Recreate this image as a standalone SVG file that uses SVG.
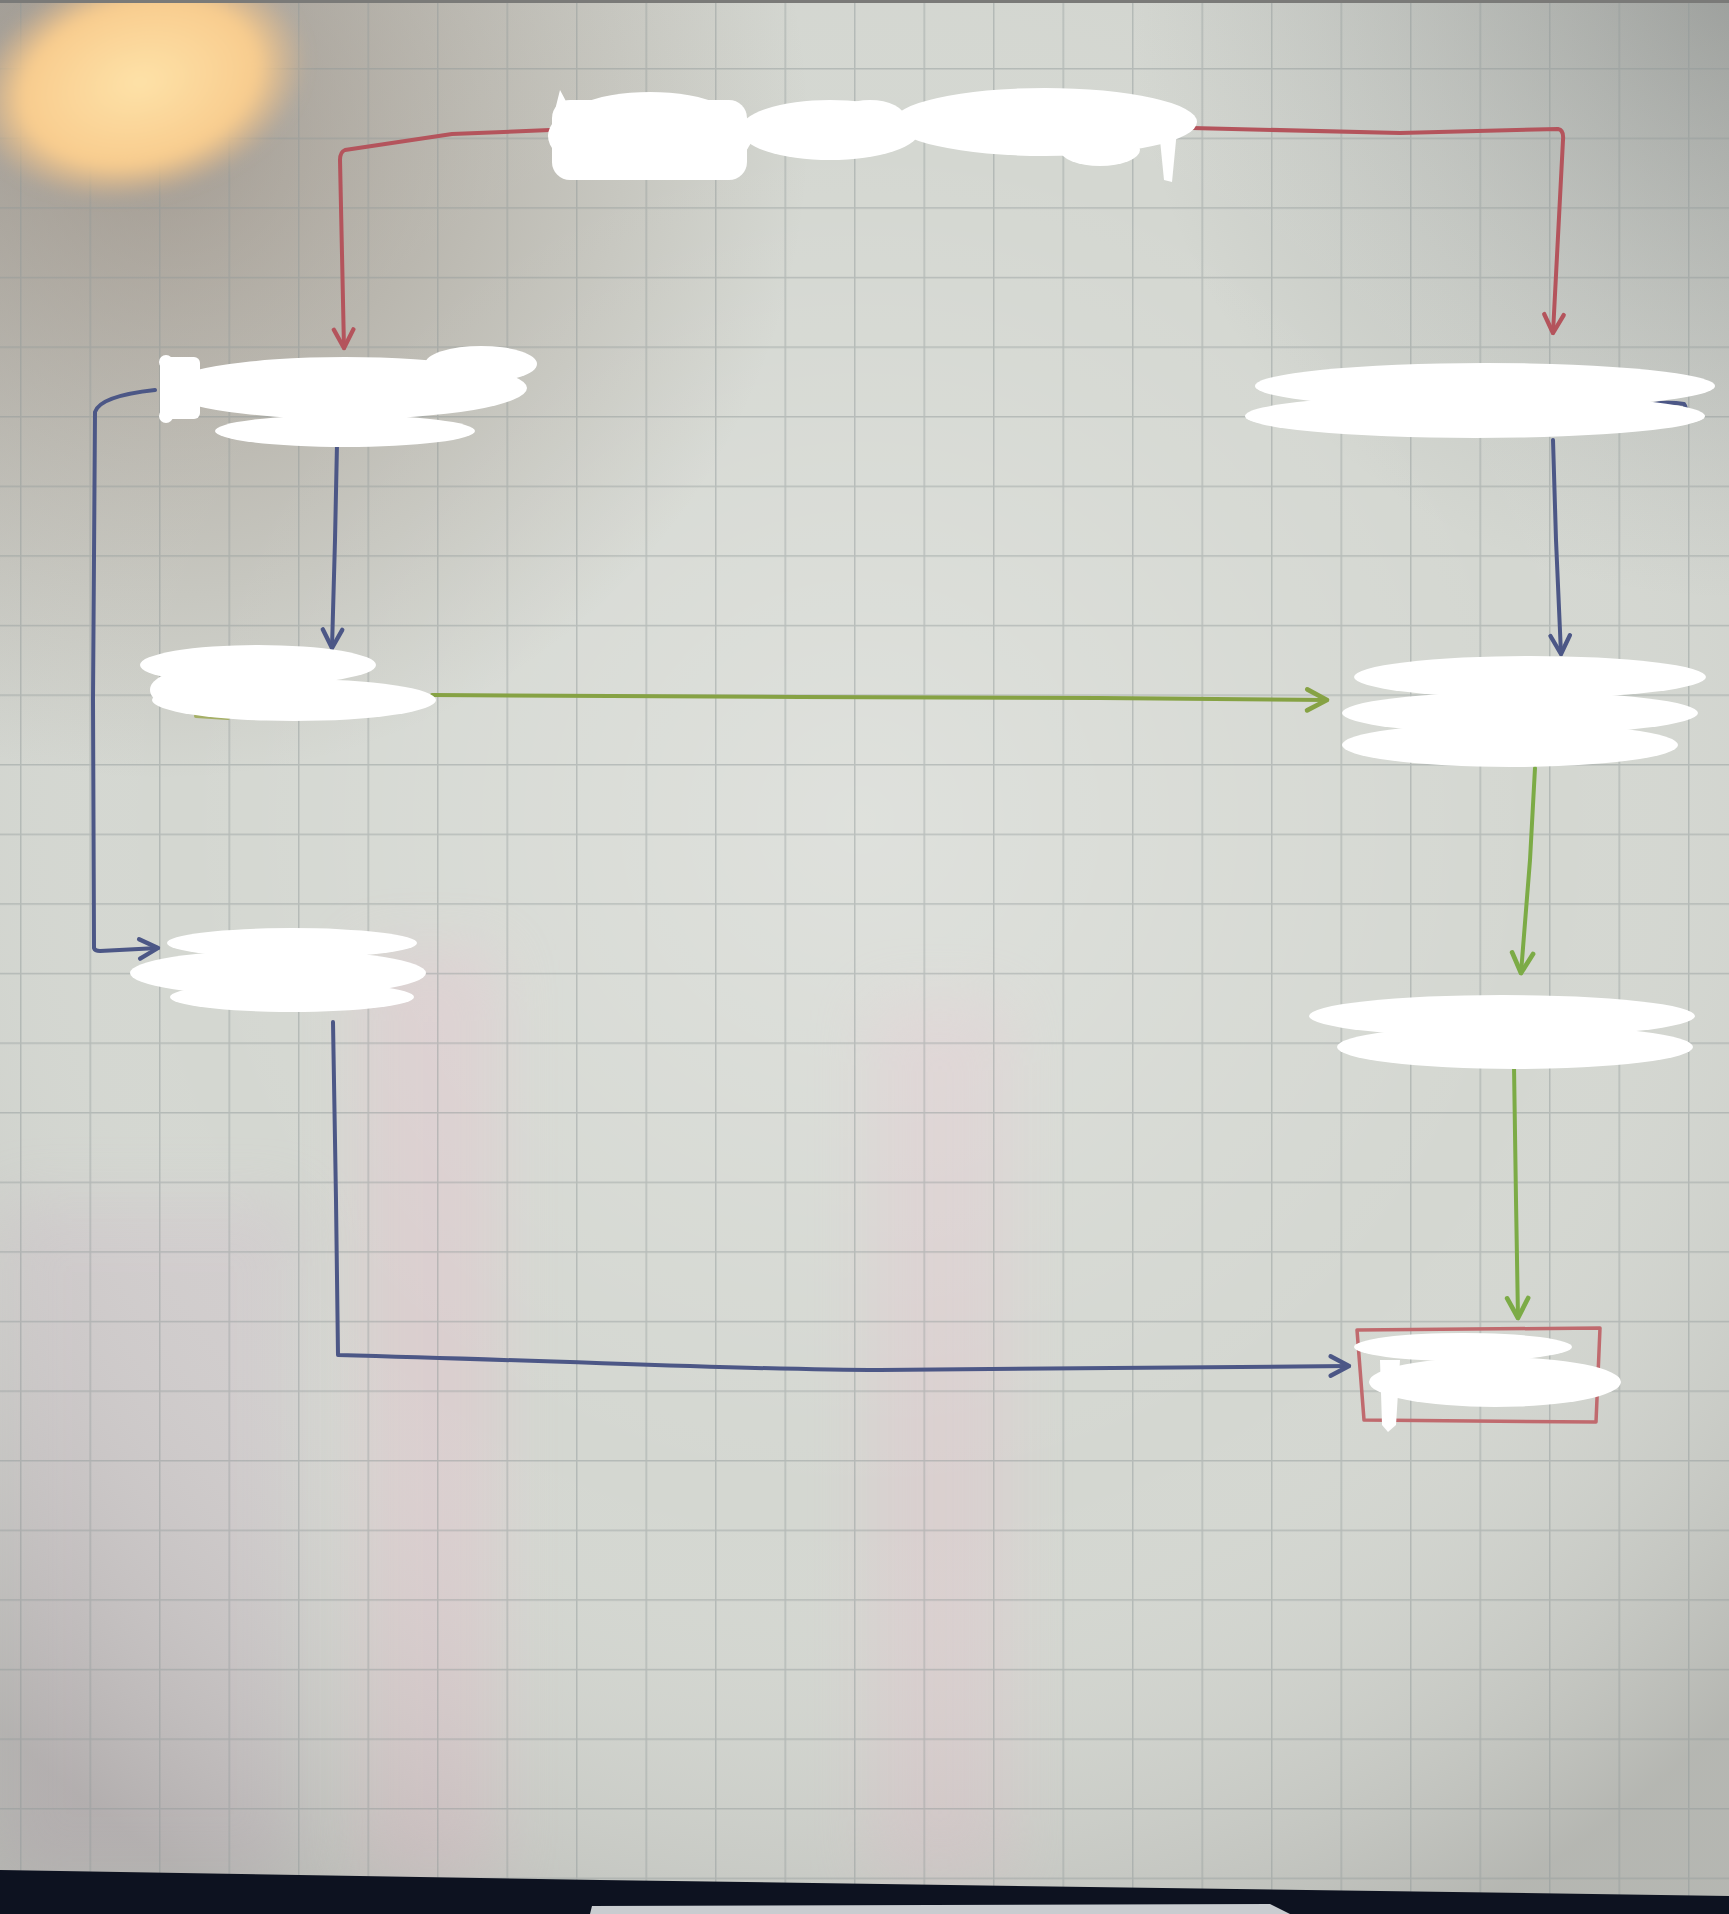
<svg xmlns="http://www.w3.org/2000/svg" width="1729" height="1914" viewBox="0 0 1729 1914">
<defs>
<style>
.blob{fill:#ffffff}
.con{fill:none;stroke-width:4;stroke-linecap:round;stroke-linejoin:round}
.red{stroke:#b4545c}
.blue{stroke:#4c5786}
.green{stroke:#86a244}
.green2{stroke:#7cab46}
.box{fill:none;stroke:#c06a6e;stroke-width:3.5;stroke-linejoin:round}
</style>
<pattern id="grid" x="20" y="68" width="69.5" height="69.6" patternUnits="userSpaceOnUse">
<path d="M0,0 V69.6 M0,0 H69.5" fill="none" stroke="#8f9696" stroke-opacity="0.45" stroke-width="3"/>
</pattern>
<radialGradient id="light" cx="860" cy="820" r="1250" gradientUnits="userSpaceOnUse">
<stop offset="0" stop-color="#ffffff" stop-opacity="0.25"/>
<stop offset="0.55" stop-color="#ffffff" stop-opacity="0"/>
<stop offset="1" stop-color="#3a3535" stop-opacity="0.2"/>
</radialGradient>
<radialGradient id="tl" cx="160" cy="130" r="650" gradientUnits="userSpaceOnUse">
<stop offset="0" stop-color="#6e5a4c" stop-opacity="0.45"/>
<stop offset="1" stop-color="#6e5a4c" stop-opacity="0"/>
</radialGradient>
<radialGradient id="tr" cx="1729" cy="0" r="600" gradientUnits="userSpaceOnUse">
<stop offset="0" stop-color="#5a5f60" stop-opacity="0.3"/>
<stop offset="1" stop-color="#5a5f60" stop-opacity="0"/>
</radialGradient>
<radialGradient id="lamp" cx="0.5" cy="0.5" r="0.5">
<stop offset="0" stop-color="#fee2a8"/>
<stop offset="0.7" stop-color="#f8cc8e"/>
<stop offset="1" stop-color="#ecbd88" stop-opacity="0"/>
</radialGradient>
<filter id="blur" x="-20%" y="-20%" width="140%" height="140%"><feGaussianBlur stdDeviation="7"/></filter>
<filter id="blur2" x="-50%" y="-10%" width="200%" height="120%"><feGaussianBlur stdDeviation="30"/></filter>
<marker id="ar-red" viewBox="0 0 24 24" refX="21" refY="12" markerWidth="26" markerHeight="26" markerUnits="userSpaceOnUse" orient="auto"><path d="M4,3 L21,12 L4,21" fill="none" stroke="#b4545c" stroke-width="4" stroke-linecap="round" stroke-linejoin="round"/></marker>
<marker id="ar-blue" viewBox="0 0 24 24" refX="21" refY="12" markerWidth="26" markerHeight="26" markerUnits="userSpaceOnUse" orient="auto"><path d="M4,3 L21,12 L4,21" fill="none" stroke="#4c5786" stroke-width="4" stroke-linecap="round" stroke-linejoin="round"/></marker>
<marker id="ar-green" viewBox="0 0 24 24" refX="21" refY="12" markerWidth="28" markerHeight="28" markerUnits="userSpaceOnUse" orient="auto"><path d="M4,3 L21,12 L4,21" fill="none" stroke="#86a244" stroke-width="4" stroke-linecap="round" stroke-linejoin="round"/></marker>
<marker id="ar-green2" viewBox="0 0 24 24" refX="21" refY="12" markerWidth="28" markerHeight="28" markerUnits="userSpaceOnUse" orient="auto"><path d="M4,3 L21,12 L4,21" fill="none" stroke="#7cab46" stroke-width="4" stroke-linecap="round" stroke-linejoin="round"/></marker>
</defs>

<g id="paper">
<rect x="0" y="0" width="1729" height="1914" fill="#d4d7d1"/>
<rect x="360" y="950" width="140" height="930" fill="#e4c2cc" opacity="0.4" filter="url(#blur2)"/>
<rect x="870" y="1000" width="140" height="880" fill="#e4c2cc" opacity="0.35" filter="url(#blur2)"/>
<rect x="0" y="1200" width="300" height="680" fill="#cdbcc8" opacity="0.35" filter="url(#blur2)"/>
<rect x="0" y="0" width="1729" height="1914" fill="url(#light)"/>
<rect x="0" y="0" width="1729" height="1914" fill="url(#tl)"/>
<rect x="0" y="0" width="1729" height="1914" fill="url(#tr)"/>
<rect x="0" y="0" width="1729" height="1914" fill="url(#grid)"/>
<ellipse cx="140" cy="82" rx="170" ry="115" transform="rotate(-14 140 82)" fill="url(#lamp)" filter="url(#blur)"/>
<rect x="0" y="0" width="1729" height="3" fill="#7a7a78"/>
<path d="M0,1870 L600,1880 L1729,1896 L1729,1914 L0,1914 Z" fill="#0d1220"/>
<path d="M592,1906 L1270,1904 L1290,1914 L590,1914 Z" fill="#c9ccd0"/>
</g>

<g id="connectors">
<path class="con red" d="M550,130 L452,134 L345,150 Q340,152 340,160 L344,348" marker-end="url(#ar-red)"/>
<path class="con red" d="M1192,128 L1400,133 L1558,129 Q1564,130 1563,140 L1553,333" marker-end="url(#ar-red)"/>
<path class="con blue" d="M337,444 L335,540 L332,648" marker-end="url(#ar-blue)"/>
<path class="con blue" d="M1553,440 L1556,540 L1561,654" marker-end="url(#ar-blue)"/>
<path class="con blue" d="M155,390 Q100,396 95,412 L93,700 L94,948 Q95,951 100,951 L158,948" marker-end="url(#ar-blue)"/>
<path class="con green" d="M432,695 L800,697 L1100,698 L1327,700" marker-end="url(#ar-green)"/>
<path class="con green2" d="M1535,768 L1530,860 L1521,973" marker-end="url(#ar-green2)"/>
<path class="con green2" d="M1514,1066 L1516,1200 L1518,1318" marker-end="url(#ar-green2)"/>
<path class="con blue" d="M333,1022 L336,1200 L338,1355 C600,1362 750,1370 880,1370 C1050,1370 1200,1366 1349,1366" marker-end="url(#ar-blue)"/>
<path d="M1640,408 Q1660,400 1684,404 Q1690,412 1676,418" fill="none" stroke="#4c5786" stroke-width="4" stroke-linecap="round"/>
<path d="M196,716 L228,718" fill="none" stroke="#9aa64c" stroke-width="4" stroke-linecap="round" opacity="0.8"/>
</g>

<g id="node-top">
<ellipse class="blob" cx="650" cy="136" rx="102" ry="44"/>
<rect class="blob" x="552" y="100" width="195" height="80" rx="18"/>
<ellipse class="blob" cx="830" cy="130" rx="90" ry="30"/>
<ellipse class="blob" cx="870" cy="118" rx="35" ry="18"/>
<ellipse class="blob" cx="1045" cy="122" rx="152" ry="34"/>
<ellipse class="blob" cx="1100" cy="150" rx="40" ry="16"/>
<path class="blob" d="M1158,120 L1178,120 L1172,182 L1164,180 Z"/>
<path class="blob" d="M555,110 L560,90 L568,105 Z"/>
</g>

<g id="node-left-1">
<ellipse class="blob" cx="345" cy="388" rx="182" ry="31"/>
<ellipse class="blob" cx="481" cy="364" rx="56" ry="18"/>
<ellipse class="blob" cx="345" cy="431" rx="130" ry="16"/>
<rect class="blob" x="160" y="357" width="40" height="62" rx="6"/>
<circle class="blob" cx="166" cy="362" r="7"/>
<circle class="blob" cx="166" cy="416" r="7"/>
</g>

<g id="node-right-1">
<ellipse class="blob" cx="1485" cy="386" rx="230" ry="23"/>
<ellipse class="blob" cx="1475" cy="416" rx="230" ry="22"/>
</g>

<g id="node-left-2">
<ellipse class="blob" cx="258" cy="665" rx="118" ry="20"/>
<ellipse class="blob" cx="294" cy="700" rx="142" ry="21"/>
<ellipse class="blob" cx="200" cy="690" rx="50" ry="22"/>
</g>

<g id="node-right-2">
<ellipse class="blob" cx="1530" cy="677" rx="176" ry="21"/>
<ellipse class="blob" cx="1520" cy="713" rx="178" ry="21"/>
<ellipse class="blob" cx="1510" cy="745" rx="168" ry="22"/>
</g>

<g id="node-left-3">
<ellipse class="blob" cx="292" cy="943" rx="125" ry="15"/>
<ellipse class="blob" cx="278" cy="973" rx="148" ry="23"/>
<ellipse class="blob" cx="292" cy="997" rx="122" ry="15"/>
</g>

<g id="node-right-3">
<ellipse class="blob" cx="1502" cy="1016" rx="193" ry="21"/>
<ellipse class="blob" cx="1515" cy="1047" rx="178" ry="22"/>
</g>

<g id="node-right-4">
<path class="box" d="M1357,1330 L1600,1328 L1596,1422 L1364,1420 Z"/>
<ellipse class="blob" cx="1463" cy="1347" rx="109" ry="14"/>
<ellipse class="blob" cx="1495" cy="1382" rx="126" ry="25"/>
<path class="blob" d="M1380,1360 L1400,1360 L1396,1425 L1388,1432 L1382,1425 Z"/>
</g>
</svg>
